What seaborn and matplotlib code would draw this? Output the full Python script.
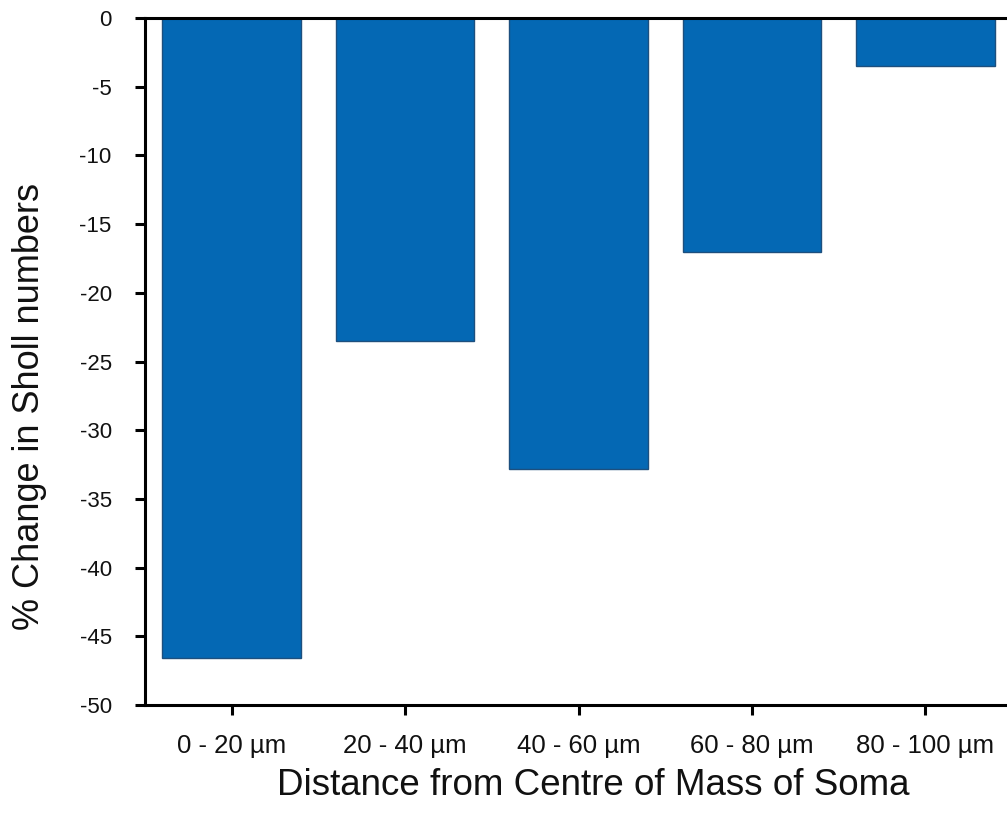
import matplotlib
matplotlib.use("Agg")
import matplotlib.pyplot as plt
import seaborn as sns
import pandas as pd

# --- data ---
categories = ["0 - 20 µm", "20 - 40 µm", "40 - 60 µm", "60 - 80 µm", "80 - 100 µm"]
pct_change = [-46.6, -23.5, -32.8, -17.0, -3.5]
y_ticks = [0, -5, -10, -15, -20, -25, -30, -35, -40, -45, -50]

df = pd.DataFrame({"distance": categories, "change": pct_change})

sns.set_theme(style="white")
plt.rcParams["font.family"] = ["Liberation Sans", "DejaVu Sans"]
plt.rcParams["axes.unicode_minus"] = False

fig = plt.figure(figsize=(10.07, 8.18), dpi=100)
ax = fig.add_axes([0.144, 0.138, 0.861, 0.840])

sns.barplot(data=df, x="distance", y="change", color="#0468b4",
            saturation=1, width=0.8, edgecolor="#1d4f7e", linewidth=1.0, ax=ax)

ax.set_xlim(-0.5, 4.5)
ax.set_ylim(-50, 0)
ax.set_yticks(y_ticks)
ax.set_yticklabels([str(t) for t in y_ticks])

for side in ["left", "bottom", "top", "right"]:
    ax.spines[side].set_color("black")
    ax.spines[side].set_linewidth(2.2)

ax.tick_params(axis="both", which="major", direction="out", length=7, width=2.2,
               color="black", labelcolor="#111111")
ax.tick_params(axis="x", pad=14, bottom=True, labelsize=18.5)
ax.tick_params(axis="y", pad=17, left=True, labelsize=16)

ax.set_xlabel("Distance from Centre of Mass of Soma", fontsize=26.5, color="#111111")
ax.set_ylabel("% Change in Sholl numbers", fontsize=26, color="#111111")
# label placement as in the original figure
ax.xaxis.set_label_coords(0.517, -0.092)
ax.yaxis.set_label_coords(-0.113, 0.434)

fig.savefig("out.png", dpi=100)
